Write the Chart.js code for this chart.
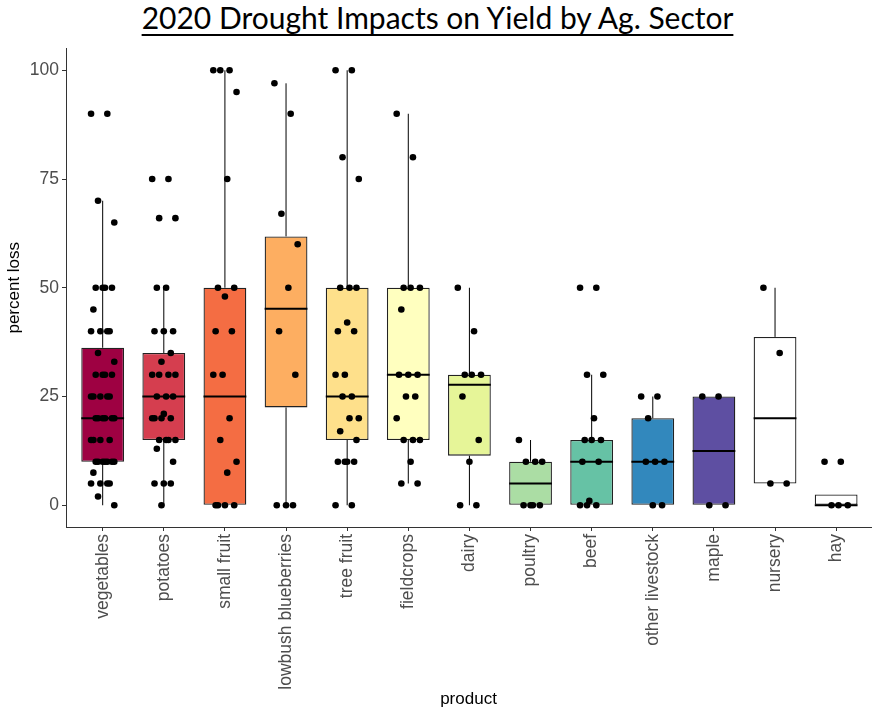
<!DOCTYPE html>
<html>
<head>
<meta charset="utf-8">
<script src="https://cdn.jsdelivr.net/npm/chart.js@4.4.1/dist/chart.umd.min.js"></script>
<style>
  html, body { margin: 0; padding: 0; background: #fff; overflow: hidden; }
  #wrap { position: relative; width: 875px; height: 713px; }
  #title {
    position: absolute; left: 0; top: 0; width: 875px; text-align: center;
    font-family: Lato, "Open Sans", sans-serif; font-size: 30px; line-height: 34px;
    color: #000; text-decoration: underline; text-decoration-thickness: 2px;
    text-underline-offset: 5px;
  }
  canvas { position: absolute; left: 0; top: 0; }
</style>
</head>
<body>
<div id="wrap">
  <div id="title">2020 Drought Impacts on Yield by Ag. Sector</div>
  <canvas id="chart" width="875" height="713"></canvas>
</div>
<script>
const categories = ['vegetables', 'potatoes', 'small fruit', 'lowbush blueberries', 'tree fruit',
  'fieldcrops', 'dairy', 'poultry', 'beef', 'other livestock', 'maple', 'nursery', 'hay'];

// box statistics
const q1 = [10, 15, 0, 22.5, 15, 15, 11.4, 0, 0, 0, 0, 5, 0];
const median = [20, 25, 25, 45.2, 25, 30, 27.7, 5, 10, 10, 12.5, 20, 0];
const q3 = [36.2, 35, 50, 61.8, 50, 50, 30, 10, 15, 20, 25, 38.7, 2.5];
const whiskerLow = [0, 0, 0, 0, 0, 5, 0, 0, 0, 0, 0, 5, 0];
const whiskerHigh = [70, 50, 100, 97, 100, 90, 50, 15, 30, 25, 25, 50, 2.5];

// individual responses (percent loss)
const vegetables = [90, 90, 70, 65, 50, 50, 50, 50, 45, 40, 40, 40, 40, 35, 33, 30, 30, 30, 30,
  25, 25, 25, 25, 25, 20, 20, 20, 20, 20, 20, 15, 15, 15, 15, 10, 10, 10, 10, 10, 10, 10, 7.5,
  5, 5, 5, 5, 2, 0];
const potatoes = [75, 75, 66, 66, 50, 50, 40, 40, 40, 35, 33, 30, 30, 30, 30, 25, 25, 25, 21,
  20, 20, 20, 20, 15, 15, 15, 15, 13, 10, 5, 5, 5, 0];
const smallFruit = [100, 100, 100, 95, 75, 50, 50, 48, 40, 40, 30, 30, 20, 15, 10, 7.5, 0, 0, 0, 0];
const lowbush = [97, 90, 67, 60, 50, 40, 30, 0, 0, 0];
const treeFruit = [100, 100, 80, 75, 50, 50, 50, 42, 40, 40, 30, 30, 25, 25, 20, 20, 17, 15,
  10, 10, 10, 10, 0, 0];
const fieldcrops = [90, 80, 50, 50, 50, 45, 30, 30, 30, 25, 25, 20, 15, 15, 15, 10, 5, 5];
const dairy = [50, 40, 30, 30, 30, 25, 15, 10, 0, 0];
const poultry = [15, 10, 10, 10, 0, 0, 0, 0];
const beef = [50, 50, 30, 30, 20, 15, 15, 15, 10, 10, 1, 0, 0, 0];
const otherLivestock = [25, 25, 20, 10, 10, 10, 0, 0];
const maple = [25, 25, 0, 0];
const nursery = [50, 35, 5, 5];
const hay = [10, 10, 0, 0, 0];

const groups = [vegetables, potatoes, smallFruit, lowbush, treeFruit, fieldcrops, dairy,
  poultry, beef, otherLivestock, maple, nursery, hay];

const fills = ['#9E0142', '#D53E4F', '#F46D43', '#FDAE61', '#FEE08B', '#FFFFBF', '#E6F598',
  '#ABDDA4', '#66C2A5', '#3288BD', '#5E4FA2', '#FFFFFF', '#FFFFFF'];

const yTicks = [0, 25, 50, 75, 100];

// build library data
const boxData = categories.map((c, i) => ({ x: i, y: [q1[i], q3[i]] }));
const whiskerData = [];
const medianData = [];
categories.forEach((c, i) => {
  whiskerData.push({ x: i, y: whiskerLow[i] }, { x: i, y: q1[i] }, { x: i, y: null });
  whiskerData.push({ x: i, y: q3[i] }, { x: i, y: whiskerHigh[i] }, { x: i, y: null });
  medianData.push({ x: i - 0.35, y: median[i] }, { x: i + 0.35, y: median[i] }, { x: i, y: null });
});
// jitter spread across the box (deterministic)
const pointData = [];
groups.forEach((vals, i) => {
  vals.forEach((v, k) => {
    pointData.push({ x: i + ((k * 7) % 11 - 5) * 0.038, y: v });
  });
});

const tickFont = { family: 'Liberation Sans, Arial, sans-serif', size: 17.5 };
const titleFont = { family: 'Liberation Sans, Arial, sans-serif', size: 17 };

new Chart(document.getElementById('chart').getContext('2d'), {
  type: 'bar',
  data: {
    datasets: [{
      type: 'scatter',
      data: pointData,
      backgroundColor: '#000',
      borderColor: '#000',
      pointRadius: 3.3,
      borderWidth: 0,
      order: 0
    }, {
      type: 'scatter',
      data: medianData,
      showLine: true,
      spanGaps: false,
      borderColor: '#000',
      borderWidth: 2,
      pointRadius: 0,
      order: 1
    }, {
      type: 'bar',
      data: boxData,
      backgroundColor: fills,
      borderColor: '#222',
      borderWidth: 1.3,
      borderSkipped: false,
      barPercentage: 0.7,
      categoryPercentage: 1,
      order: 2
    }, {
      type: 'scatter',
      data: whiskerData,
      showLine: true,
      spanGaps: false,
      borderColor: '#000',
      borderWidth: 1,
      pointRadius: 0,
      order: 3
    }]
  },
  options: {
    responsive: false,
    animation: false,
    layout: { padding: { top: 48.5, left: 0, right: -4, bottom: 0 } },
    plugins: {
      legend: { display: false },
      tooltip: { enabled: false }
    },
    scales: {
      x: {
        type: 'linear',
        min: -0.6,
        max: 12.57,
        offset: false,
        afterBuildTicks: (scale) => { scale.ticks = categories.map((c, i) => ({ value: i })); },
        afterFit: (scale) => { scale.height = 186; },
        ticks: {
          autoSkip: false,
          minRotation: 90,
          maxRotation: 90,
          padding: 3,
          color: '#4D4D4D',
          font: tickFont,
          callback: (v) => categories[v]
        },
        grid: { display: true, offset: false, drawOnChartArea: false, drawTicks: true, tickLength: 4, color: '#333' },
        border: { display: true, color: '#333', width: 1 },
        title: { display: true, text: 'product', color: '#000', font: titleFont, padding: { top: 3, bottom: 3 } }
      },
      y: {
        min: -5,
        max: 105,
        afterBuildTicks: (scale) => { scale.ticks = yTicks.map(v => ({ value: v })); },
        afterFit: (scale) => { scale.width = 66; },
        ticks: { padding: 3, color: '#4D4D4D', font: tickFont },
        grid: { display: true, offset: false, drawOnChartArea: false, drawTicks: true, tickLength: 4, color: '#333' },
        border: { display: true, color: '#333', width: 1 },
        title: { display: true, text: 'percent loss', color: '#000', font: titleFont, padding: { top: 4, bottom: 4 } }
      }
    }
  }
});
</script>
</body>
</html>
